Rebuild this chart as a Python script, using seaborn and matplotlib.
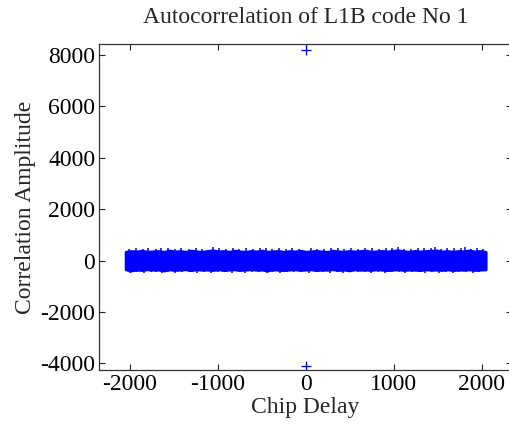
import numpy as np
import pandas as pd
import matplotlib
matplotlib.use("Agg")
import matplotlib.pyplot as plt
import seaborn as sns

# ---- data ----
peak_delay = [0, 0]
peak_value = [8184, -4092]

# sidelobe band: delays of the sampled envelope points and its solid upper/lower edge
band_delay = list(range(-2046, 2047, 62))
band_upper = [340, 370, 355, 385, 345, 360, 375, 340, 390, 355, 370, 345, 385, 360, 340, 375,
              400, 355, 370, 345, 385, 360, 340, 375, 355, 390, 345, 360, 375, 340, 370, 355,
              385, 345, 360, 375, 355, 340, 385, 360, 345, 375, 355, 370, 390, 345, 360, 375,
              355, 385, 400, 360, 345, 375, 355, 370, 385, 395, 355, 370, 345, 375, 360, 395,
              355, 370, 340]
band_lower = [-345, -390, -355, -370, -340, -360, -355, -390, -345, -370, -355, -340, -375, -345,
              -360, -355, -370, -340, -375, -355, -345, -370, -355, -340, -360, -355, -390, -345,
              -360, -375, -355, -340, -370, -355, -345, -375, -355, -360, -340, -370, -355, -385,
              -345, -360, -355, -370, -340, -360, -375, -355, -345, -370, -355, -360, -375, -345,
              -360, -355, -370, -345, -375, -355, -360, -345, -370, -355, -345]

# isolated sidelobe spikes sticking out of the band
spike_up_delay = [-2010, -1930, -1850, -1790, -1700, -1640, -1560, -1480, -1420, -1330, -1250,
                  -1180, -1057, -980, -900, -820, -760, -680, -600, -520, -450, -380, -300, -220,
                  -150, -70, 60, 130, 210, 290, 370, 440, 520, 600, 680, 750, 830, 910, 980, 1045,
                  1120, 1200, 1280, 1350, 1420, 1466, 1540, 1610, 1690, 1760, 1807, 1880, 1950, 2010]
spike_up_value = [450, 480, 460, 500, 440, 470, 490, 450, 470, 460, 490, 450, 540, 470, 450, 480,
                  460, 490, 450, 470, 480, 450, 490, 460, 470, 450, 480, 460, 450, 490, 470, 460,
                  480, 450, 470, 490, 460, 480, 470, 540, 460, 450, 490, 470, 480, 530, 460, 480,
                  470, 490, 530, 460, 480, 450]
spike_dn_delay = [-2000, -1920, -1840, -1760, -1700, -1636, -1560, -1480, -1400, -1320, -1240,
                  -1160, -1080, -1000, -920, -840, -760, -690, -610, -530, -443, -370, -290, -210,
                  -130, -50, 40, 120, 200, 280, 360, 430, 510, 590, 670, 740, 820, 900, 980, 1060,
                  1130, 1210, 1290, 1360, 1440, 1520, 1590, 1670, 1740, 1820, 1900, 1970]
spike_dn_value = [-490, -450, -470, -440, -460, -490, -450, -470, -440, -460, -480, -450, -470,
                  -440, -460, -470, -450, -480, -440, -460, -500, -450, -470, -440, -460, -450,
                  -470, -440, -460, -480, -450, -470, -440, -460, -450, -480, -440, -470, -460,
                  -450, -480, -440, -460, -470, -450, -480, -440, -470, -460, -450, -470, -440]

title = "Autocorrelation of L1B code No 1"
xlabel = "Chip Delay"
ylabel = "Correlation Amplitude"
xticks = [-2000, -1000, 0, 1000, 2000]
yticks = [-4000, -2000, 0, 2000, 4000, 6000, 8000]

sns.set_style("ticks")
plt.rcParams["font.family"] = ["Liberation Serif", "DejaVu Serif"]
plt.rcParams["axes.unicode_minus"] = False
plt.rcParams["xtick.direction"] = "in"
plt.rcParams["ytick.direction"] = "in"

W, H = 509, 426
fig = plt.figure(figsize=(W / 100, H / 100), dpi=100)
ax = fig.add_axes([99.3 / W, 1 - 370 / H, (512 - 99.3) / W, (370 - 44) / H])

blue = "#0000ff"
band = pd.DataFrame({"delay": band_delay, "upper": band_upper, "lower": band_lower})
ax.fill_between(band["delay"], band["lower"], band["upper"], facecolor=blue,
                edgecolor=blue, lw=2.0, joinstyle="round")
ax.vlines(spike_up_delay, 0, spike_up_value, colors=blue, lw=1.1)
ax.vlines(spike_dn_delay, spike_dn_value, 0, colors=blue, lw=1.1)
pk = pd.DataFrame({"delay": peak_delay, "value": peak_value})
sns.scatterplot(data=pk, x="delay", y="value", marker="+", s=42, color=blue,
                linewidth=0.9, ax=ax, legend=False)

ax.set_xlim(-2345, 2345)
ax.set_ylim(-4261, 8428)
ax.set_xticks(xticks)
ax.set_yticks(yticks)
ax.tick_params(axis="both", which="both", direction="in", length=4, width=0.8,
               labelsize=17, top=True, right=True, pad=3, colors="#222222", labelcolor="black")
for s in ax.spines.values():
    s.set_visible(True)
    s.set_linewidth(0.9)
    s.set_color("#333333")
ax.set_title(title, fontsize=17, pad=15)
ax.set_xlabel(xlabel, fontsize=17, labelpad=1)
ax.set_ylabel(ylabel, fontsize=17, labelpad=3)

fig.savefig("out.png", dpi=100)
